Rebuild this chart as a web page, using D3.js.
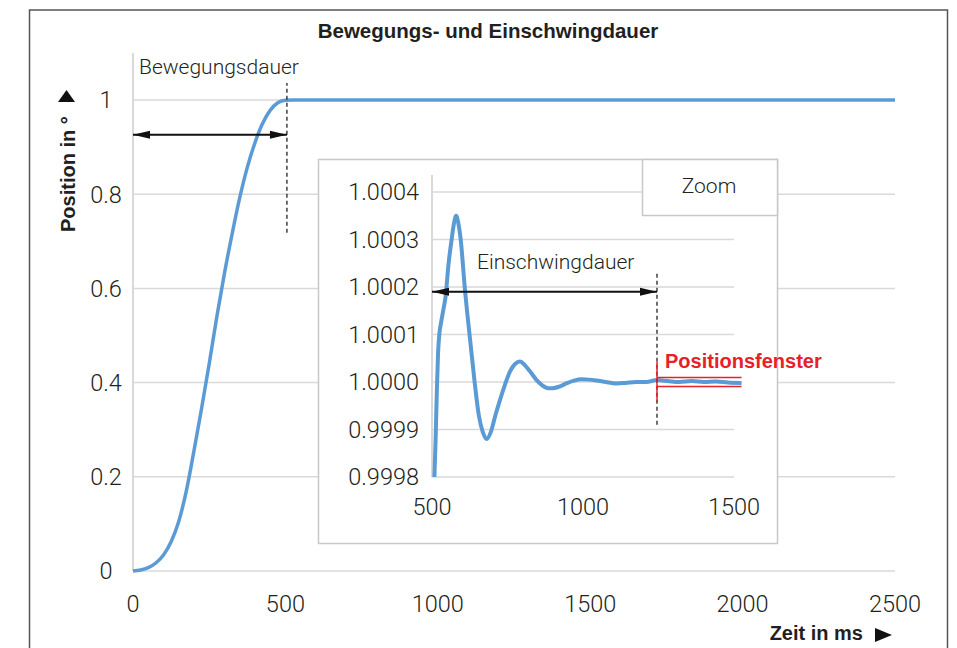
<!DOCTYPE html>
<html>
<head>
<meta charset="utf-8">
<script src="https://cdn.jsdelivr.net/npm/d3@7"></script>
<style>
  html, body { margin: 0; padding: 0; background: #fff; }
  svg { display: block; }
  .light { font-family: "Roboto", "Liberation Sans", sans-serif; font-weight: 300; fill: #231f20; }
  .bold { font-family: "Liberation Sans", Arial, sans-serif; font-weight: bold; fill: #231f20; }
</style>
</head>
<body>
<svg id="chart" width="957" height="648"></svg>
<script>
// ---------- data ----------
const title = "Bewegungs- und Einschwingdauer";
const yLabel = "Position in °";
const xLabel = "Zeit in ms";

// main chart: position (°) over time (ms)
const mainTime  = [0, 25, 50, 75, 100, 125, 150, 175, 200, 225, 250, 275, 300, 325, 350, 375, 400, 425, 450, 475, 500, 525, 2500];
const mainPos   = [0, 0.002, 0.007, 0.017, 0.034, 0.062, 0.105, 0.170, 0.255, 0.345, 0.44, 0.54, 0.632, 0.715, 0.792, 0.857, 0.909, 0.950, 0.978, 0.994, 0.9995, 1.0, 1.0];
const mainXTicks = [0, 500, 1000, 1500, 2000, 2500];
const mainYTicks = [0, 0.2, 0.4, 0.6, 0.8, 1];

// zoom inset: settling around 1°
const zoomTime = [508, 512, 516, 520, 525, 530, 537, 545, 555, 565, 573, 580, 587, 595, 609, 626, 642, 655, 668, 681, 695, 710, 725, 742, 758, 775, 791, 808, 825, 845, 865, 885, 900, 920, 945, 970, 995, 1020, 1045, 1075, 1110, 1140, 1175, 1210, 1245, 1280, 1320, 1360, 1400, 1440, 1480, 1525];
const zoomPos  = [0.99980, 0.99988, 0.99998, 1.00006, 1.000105, 1.000125, 1.00015, 1.00018, 1.00025, 1.00030, 1.000335, 1.00035, 1.000335, 1.00030, 1.000195, 1.00009, 0.999995, 0.99993, 0.999895, 0.99988, 0.999895, 0.99993, 0.999962, 0.999995, 1.000022, 1.000038, 1.000043, 1.000035, 1.000022, 1.000005, 0.999993, 0.999987, 0.999987, 0.99999, 0.999997, 1.000003, 1.000006, 1.000005, 1.000003, 1.0, 0.999997, 0.999998, 1.0, 1.0, 1.000004, 1.000002, 1.0, 1.000002, 1.0, 1.000001, 0.999999, 0.999998];
const zoomXTicks = [500, 1000, 1500];
const zoomYTicks = [0.9998, 0.9999, 1.0000, 1.0001, 1.0002, 1.0003, 1.0004];

// annotations
const moveEnd = 505, moveArrowPos = 0.926, moveDashFrom = 0.718, moveDashTo = 1.036;
const settleStart = 500, settleEnd = 1245, settleArrowPos = 1.00019, settleDashFrom = 0.99991, settleDashTo = 1.000232;
const windowEnd = 1525, windowTol = 0.0000095, windowMarkTop = 1.000042, windowMarkBottom = 0.999958;

// ---------- drawing ----------
const svg = d3.select("#chart");
const blue = "#5b9bd5", grid = "#d9d9d9", red = "#e8202a";

// frame
svg.append("rect").attr("x", 29.5).attr("y", 10).attr("width", 918).attr("height", 660)
  .attr("fill", "none").attr("stroke", "#555").attr("stroke-width", 1.5);

// arrow markers
const defs = svg.append("defs");
defs.append("marker").attr("id", "arrowEnd").attr("markerUnits", "userSpaceOnUse")
  .attr("viewBox", "-20 -6 20 12").attr("refX", 0).attr("refY", 0)
  .attr("markerWidth", 20).attr("markerHeight", 12).attr("orient", "auto")
  .append("path").attr("d", "M0,0 L-17,-4 L-17,4 Z").attr("fill", "#111");
defs.append("marker").attr("id", "arrowStart").attr("markerUnits", "userSpaceOnUse")
  .attr("viewBox", "0 -6 20 12").attr("refX", 0).attr("refY", 0)
  .attr("markerWidth", 20).attr("markerHeight", 12).attr("orient", "auto")
  .append("path").attr("d", "M0,0 L17,-4 L17,4 Z").attr("fill", "#111");

// ----- main chart -----
const x = d3.scaleLinear().domain([0, 2500]).range([133, 895]);
const y = d3.scaleLinear().domain([0, 1.1]).range([571, 52.9]);

svg.append("text").attr("class", "bold").attr("x", 488).attr("y", 38)
  .attr("text-anchor", "middle").attr("font-size", 20.5).text(title);

// gridlines
svg.append("g").selectAll("line").data(mainYTicks).join("line")
  .attr("x1", x(0)).attr("x2", x(2500)).attr("y1", d => y(d)).attr("y2", d => y(d))
  .attr("stroke", grid).attr("stroke-width", 1.5);
// y axis line
svg.append("line").attr("x1", x(0)).attr("x2", x(0)).attr("y1", y(0)).attr("y2", y(1.1))
  .attr("stroke", grid).attr("stroke-width", 2);

// tick labels
svg.append("g").selectAll("text").data(mainYTicks).join("text").attr("class", "light")
  .attr("x", 106).attr("y", d => y(d)).attr("dy", "0.36em").attr("text-anchor", "middle")
  .attr("font-size", 23.5).text(d => d3.format("~g")(d));
svg.append("g").selectAll("text").data(mainXTicks).join("text").attr("class", "light")
  .attr("x", d => x(d)).attr("y", 612).attr("text-anchor", "middle")
  .attr("font-size", 23.5).text(d => d);

// axis titles
const yl = svg.append("g").attr("transform", "translate(75,232) rotate(-90)");
yl.append("text").attr("class", "bold").attr("x", 0).attr("y", 0).attr("font-size", 20).text(yLabel);
svg.append("path").attr("d", "M58,102 L75,102 L66.5,90 Z").attr("fill", "#111");

svg.append("text").attr("class", "bold").attr("x", 863).attr("y", 640).attr("text-anchor", "end")
  .attr("font-size", 20).text(xLabel);
svg.append("path").attr("d", "M875,628 L875,642 L892,635 Z").attr("fill", "#111");

// curve
const lineMain = d3.line().x((d, i) => x(mainTime[i])).y(d => y(d)).curve(d3.curveMonotoneX);
svg.append("path").datum(mainPos).attr("d", lineMain).attr("fill", "none")
  .attr("stroke", blue).attr("stroke-width", 3.5).attr("stroke-linejoin", "round");

// Bewegungsdauer annotation
svg.append("line").attr("x1", x(moveEnd)).attr("x2", x(moveEnd)).attr("y1", y(moveDashFrom)).attr("y2", y(moveDashTo))
  .attr("stroke", "#222").attr("stroke-width", 1.3).attr("stroke-dasharray", "4,3");
svg.append("line").attr("x1", x(0)).attr("x2", x(moveEnd)).attr("y1", y(moveArrowPos)).attr("y2", y(moveArrowPos))
  .attr("stroke", "#111").attr("stroke-width", 2)
  .attr("marker-start", "url(#arrowStart)").attr("marker-end", "url(#arrowEnd)");
svg.append("text").attr("class", "light").attr("x", 139).attr("y", 74).attr("font-size", 21).text("Bewegungsdauer");

// ----- inset -----
svg.append("rect").attr("x", 318.5).attr("y", 159.5).attr("width", 459).attr("height", 384)
  .attr("fill", "#fff").attr("stroke", "#c8c8c8").attr("stroke-width", 1.5);

const xi = d3.scaleLinear().domain([500, 1500]).range([432, 734]);
const yi = d3.scaleLinear().domain([0.9998, 1.0004]).range([477, 192]);

svg.append("g").selectAll("line").data(zoomYTicks).join("line")
  .attr("x1", xi(500)).attr("x2", xi(1500)).attr("y1", d => yi(d)).attr("y2", d => yi(d))
  .attr("stroke", grid).attr("stroke-width", 1.5);
svg.append("line").attr("x1", xi(500)).attr("x2", xi(500)).attr("y1", yi(0.9998)).attr("y2", yi(1.000436))
  .attr("stroke", grid).attr("stroke-width", 2);

svg.append("g").selectAll("text").data(zoomYTicks).join("text").attr("class", "light")
  .attr("x", 419).attr("y", d => yi(d)).attr("dy", "0.36em").attr("text-anchor", "end")
  .attr("font-size", 23.5).text(d => d3.format(".4f")(d));
svg.append("g").selectAll("text").data(zoomXTicks).join("text").attr("class", "light")
  .attr("x", d => xi(d)).attr("y", 515).attr("text-anchor", "middle")
  .attr("font-size", 23.5).text(d => d);

// Zoom box
svg.append("rect").attr("x", 642.5).attr("y", 159.5).attr("width", 135).attr("height", 56)
  .attr("fill", "#fff").attr("stroke", "#c8c8c8").attr("stroke-width", 1.5);
svg.append("text").attr("class", "light").attr("x", 709).attr("y", 193).attr("text-anchor", "middle")
  .attr("font-size", 21).text("Zoom");

// inset curve
const lineZoom = d3.line().x((d, i) => xi(zoomTime[i])).y(d => yi(d)).curve(d3.curveMonotoneX);
svg.append("path").datum(zoomPos).attr("d", lineZoom).attr("fill", "none")
  .attr("stroke", blue).attr("stroke-width", 4).attr("stroke-linejoin", "round");

// Einschwingdauer annotation
svg.append("line").attr("x1", xi(settleEnd)).attr("x2", xi(settleEnd)).attr("y1", yi(settleDashFrom)).attr("y2", yi(settleDashTo))
  .attr("stroke", "#222").attr("stroke-width", 1.3).attr("stroke-dasharray", "4,3");
svg.append("line").attr("x1", xi(settleStart)).attr("x2", xi(settleEnd)).attr("y1", yi(settleArrowPos)).attr("y2", yi(settleArrowPos))
  .attr("stroke", "#111").attr("stroke-width", 2)
  .attr("marker-start", "url(#arrowStart)").attr("marker-end", "url(#arrowEnd)");
svg.append("text").attr("class", "light").attr("x", 477).attr("y", 269).attr("font-size", 21).text("Einschwingdauer");

// Positionsfenster
const pw = svg.append("g").attr("stroke", red).attr("stroke-width", 1.5);
pw.append("line").attr("x1", xi(settleEnd)).attr("x2", xi(settleEnd)).attr("y1", yi(windowMarkTop)).attr("y2", yi(windowMarkBottom));
pw.append("line").attr("x1", xi(settleEnd)).attr("x2", xi(windowEnd)).attr("y1", yi(1 + windowTol)).attr("y2", yi(1 + windowTol));
pw.append("line").attr("x1", xi(settleEnd)).attr("x2", xi(windowEnd)).attr("y1", yi(1 - windowTol)).attr("y2", yi(1 - windowTol));
svg.append("text").attr("class", "bold").attr("x", 665).attr("y", 368).attr("font-size", 20)
  .style("fill", red).text("Positionsfenster");
</script>
</body>
</html>
